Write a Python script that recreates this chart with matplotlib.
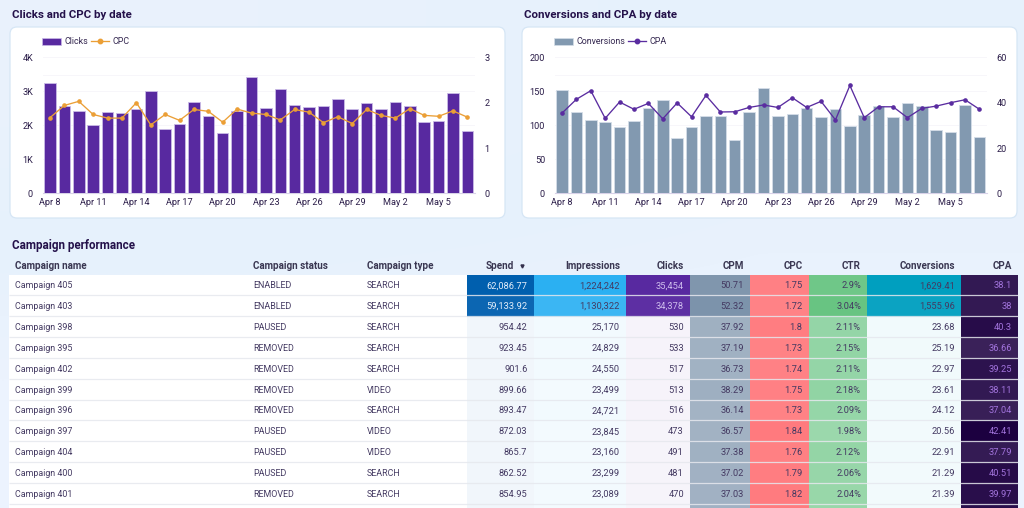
import matplotlib
matplotlib.use("Agg")
import matplotlib.pyplot as plt
import matplotlib.colors as mcolors
import numpy as np
from matplotlib.lines import Line2D
from matplotlib.patches import FancyBboxPatch, Patch, Rectangle

plt.rcParams["font.family"] = ["Roboto", "DejaVu Sans"]

W, H = 1024, 508

# --- chart data ---
dates = ["Apr 8", "Apr 9", "Apr 10", "Apr 11", "Apr 12", "Apr 13", "Apr 14", "Apr 15", "Apr 16", "Apr 17",
         "Apr 18", "Apr 19", "Apr 20", "Apr 21", "Apr 22", "Apr 23", "Apr 24", "Apr 25", "Apr 26", "Apr 27",
         "Apr 28", "Apr 29", "Apr 30", "May 1", "May 2", "May 3", "May 4", "May 5", "May 6", "May 7"]
clicks = [3245, 2570, 2410, 2010, 2380, 2370, 2490, 3010, 1880, 2050,
          2680, 2265, 1785, 2430, 3420, 2500, 3070, 2600, 2530, 2570,
          2785, 2490, 2650, 2480, 2680, 2580, 2090, 2120, 2940, 1825]
cpc = [1.67, 1.94, 2.03, 1.74, 1.66, 1.66, 2.00, 1.51, 1.74, 1.61,
       1.85, 1.81, 1.57, 1.86, 1.77, 1.74, 1.62, 1.85, 1.79, 1.56,
       1.69, 1.54, 1.85, 1.72, 1.66, 1.87, 1.72, 1.70, 1.82, 1.68]
conversions = [152, 120, 108, 105, 97.5, 106, 125.5, 138, 81, 97,
               114, 114, 78, 119, 155, 114, 117, 126, 112, 124,
               98.5, 115, 128, 112, 133, 128, 93, 90, 129.5, 82.5]
cpa = [35.4, 41.5, 45.3, 33.1, 40.3, 37.1, 39.7, 32.9, 39.9, 33.8,
       43.2, 35.9, 36.0, 37.9, 39.0, 37.9, 42.2, 37.9, 40.6, 32.4,
       47.6, 33.4, 38.2, 38.2, 33.4, 37.5, 38.5, 40.0, 41.3, 37.1]

# --- table data ---
campaign_names = ["Campaign 405", "Campaign 403", "Campaign 398", "Campaign 395", "Campaign 402", "Campaign 399",
                  "Campaign 396", "Campaign 397", "Campaign 404", "Campaign 400", "Campaign 401"]
campaign_status = ["ENABLED", "ENABLED", "PAUSED", "REMOVED", "REMOVED", "REMOVED",
                   "REMOVED", "PAUSED", "PAUSED", "PAUSED", "REMOVED"]
campaign_type = ["SEARCH", "SEARCH", "SEARCH", "SEARCH", "SEARCH", "VIDEO",
                 "SEARCH", "VIDEO", "VIDEO", "SEARCH", "SEARCH"]
t_spend = [62086.77, 59133.92, 954.42, 923.45, 901.6, 899.66, 893.47, 872.03, 865.7, 862.52, 854.95]
t_impressions = [1224242, 1130322, 25170, 24829, 24550, 23499, 24721, 23845, 23160, 23299, 23089]
t_clicks = [35454, 34378, 530, 533, 517, 513, 516, 473, 491, 481, 470]
t_cpm = [50.71, 52.32, 37.92, 37.19, 36.73, 38.29, 36.14, 36.57, 37.38, 37.02, 37.03]
t_cpc = [1.75, 1.72, 1.8, 1.73, 1.74, 1.75, 1.73, 1.84, 1.76, 1.79, 1.82]
t_ctr = [2.9, 3.04, 2.11, 2.15, 2.11, 2.18, 2.09, 1.98, 2.12, 2.06, 2.04]
t_conversions = [1629.41, 1555.96, 23.68, 25.19, 22.97, 23.61, 24.12, 20.56, 22.91, 21.29, 21.39]
t_cpa = [38.1, 38, 40.3, 36.66, 39.25, 38.11, 37.04, 42.41, 37.79, 40.51, 39.97]


def px_axes(fig, left, top, right, bottom):
    return fig.add_axes([left / W, 1 - bottom / H, (right - left) / W, (bottom - top) / H])


def draw_card(bg, x0, y0, x1, y1):
    bg.add_patch(FancyBboxPatch((x0, y0), x1 - x0, y1 - y0, boxstyle="round,pad=0,rounding_size=7",
                                facecolor="white", edgecolor="#d6e6f5", linewidth=0.9, zorder=1))


def combo_chart(fig, bg, offset, title, bars, line, bar_name, line_name, bar_color, bar_edge, line_color,
                y_ticks, y_labels, y2_ticks):
    bg.text(offset + 12, 15, title, fontsize=8.25, fontweight="bold", color="#24114a", va="center", ha="left")
    draw_card(bg, offset + 10, 27, offset + 505, 218)

    x = np.arange(len(dates))
    ax = px_axes(fig, offset + 42.8, 57.4, offset + 474.6, 193.3)
    ax.patch.set_alpha(0)
    ax.bar(x, bars, width=0.8, color=bar_color, edgecolor=bar_edge, linewidth=0.6, zorder=3)
    ax.set_xlim(-0.5, len(dates) - 0.5)
    ax.set_ylim(y_ticks[0], y_ticks[-1])
    ax.set_yticks(y_ticks, y_labels)
    ax.set_xticks(x[::3], dates[::3])
    ax.grid(axis="y", color="#f7f6fa", linewidth=0.7, zorder=0)
    ax.axhline(y_ticks[-1] * 0.868, color="#f7f6fa", linewidth=0.7, zorder=0)
    ax.tick_params(axis="both", length=0, labelsize=6.6, labelcolor="#2a1c48")
    ax.tick_params(axis="x", pad=3.5)
    ax.tick_params(axis="y", pad=7)
    for name, spine in ax.spines.items():
        spine.set_visible(name == "bottom")
    ax.spines["bottom"].set_edgecolor("#d8d2e8")
    ax.spines["bottom"].set_linewidth(0.8)

    ax2 = ax.twinx()
    ax2.patch.set_alpha(0)
    ax2.plot(x, line, color=line_color, linewidth=0.95, marker="o", markersize=2.3, zorder=4)
    ax2.set_ylim(y2_ticks[0], y2_ticks[-1])
    ax2.set_yticks(y2_ticks)
    ax2.tick_params(axis="y", length=0, labelsize=6.6, labelcolor="#2a1c48", pad=7)
    for spine in ax2.spines.values():
        spine.set_visible(False)

    handles = [Patch(facecolor=bar_color, edgecolor=bar_edge, linewidth=0.5, label=bar_name),
               Line2D([0], [0], color=line_color, linewidth=0.95, marker="o", markersize=3.2, label=line_name)]
    ax2.legend(handles=handles, loc="center left", ncol=2, frameon=False, fontsize=6.4,
               labelcolor="#33264f", bbox_to_anchor=((offset + 42) / W, 1 - 41.8 / H),
               bbox_transform=fig.transFigure, borderpad=0, borderaxespad=0, handlelength=2.1,
               handleheight=0.9, handletextpad=0.4, columnspacing=0.3)


def cell_color(value, column, base):
    # tint towards the column colour by share of the column maximum
    share = 0.04 + 0.96 * value / max(column)
    white = np.array([1.0, 1.0, 1.0])
    return white + (np.array(mcolors.to_rgb(base)) - white) * share


fig = plt.figure(figsize=(W / 100, H / 100), dpi=100)

bg = fig.add_axes([0, 0, 1, 1])
bg.set_xlim(0, W)
bg.set_ylim(H, 0)
bg.axis("off")
wash = mcolors.LinearSegmentedColormap.from_list("wash", ["#e9f1fc", "#e6f1fc", "#ecf3fe"])
bg.imshow([[0.0, 0.5], [1.0, 1.0]], cmap=wash, extent=(0, W, H, 0), aspect="auto", interpolation="bilinear", zorder=0)
bg.set_xlim(0, W)
bg.set_ylim(H, 0)

combo_chart(fig, bg, 0, "Clicks and CPC by date", clicks, cpc, "Clicks", "CPC", "#5829a0", "#cabbe6", "#eb9f36",
            [0, 1000, 2000, 3000, 4000], ["0", "1K", "2K", "3K", "4K"], [0, 1, 2, 3])
combo_chart(fig, bg, 512, "Conversions and CPA by date", conversions, cpa, "Conversions", "CPA", "#8299b0", "#d5dee8",
            "#5a2ca0", [0, 50, 100, 150, 200], ["0", "50", "100", "150", "200"], [0, 20, 40, 60])

# --- table ---
bg.text(12, 245.5, "Campaign performance", fontsize=8.35, fontweight="bold", color="#24114a", va="center", ha="left")

row_top = 275.0
row_h = 20.85
dark_text = "#443a62"
numeric_cols = [
    ("Spend", t_spend, 466.5, 533.5, "#005fae", "#e3eefa", 10000),
    ("Impressions", t_impressions, 533.5, 625.8, "#2bb0f2", dark_text, 0),
    ("Clicks", t_clicks, 625.8, 690, "#5829a0", "#cdbcec", 10000),
    ("CPM", t_cpm, 690, 750, "#7c93ab", dark_text, 0),
    ("CPC", t_cpc, 750, 808.6, "#ff7a7e", dark_text, 0),
    ("CTR", t_ctr, 808.6, 867, "#68c482", dark_text, 0),
    ("Conversions", t_conversions, 867, 961, "#009fbf", dark_text, 0),
    ("CPA", t_cpa, 961, 1018, "#1c0040", "#a274dc", 0),
]
header_color = "#3a3752"
head_y = 266

bg.text(14.7, head_y, "Campaign name", fontsize=7.1, fontweight="bold", color=header_color, va="center")
bg.text(253, head_y, "Campaign status", fontsize=7.1, fontweight="bold", color=header_color, va="center")
bg.text(366.7, head_y, "Campaign type", fontsize=7.1, fontweight="bold", color=header_color, va="center")

n_rows = len(campaign_names)
bg.add_patch(Rectangle((9, row_top), 1018 - 9, H - row_top, facecolor="white", edgecolor="none", zorder=1))

for i in range(n_rows):
    yc = row_top + row_h * (i + 0.5) + 0.4
    bg.text(14.7, yc, campaign_names[i], fontsize=6.4, color=dark_text, va="center", zorder=5)
    bg.text(253, yc, campaign_status[i], fontsize=6.4, color=dark_text, va="center", zorder=5)
    bg.text(366.7, yc, campaign_type[i], fontsize=6.4, color=dark_text, va="center", zorder=5)

for name, column, x0, x1, base, light_text, light_above in numeric_cols:
    head_x = 514 if name == "Spend" else x1 - 6
    bg.text(head_x, head_y, name, fontsize=7.1, fontweight="bold", color=header_color, va="center", ha="right")
    for i, value in enumerate(column):
        y0 = row_top + row_h * i
        face = cell_color(value, column, base)
        bg.add_patch(Rectangle((x0, y0), x1 - x0, row_h, facecolor=face, edgecolor="none", zorder=2))
        label = f"{value:,}" + ("%" if name == "CTR" else "")
        color = light_text if value > light_above else dark_text
        bg.text(x1 - 6, y0 + row_h / 2 + 0.4, label, fontsize=6.7, color=color, va="center", ha="right", zorder=5)
    # start of the next row, cut off by the bottom of the picture
    y0 = row_top + row_h * len(column)
    bg.add_patch(Rectangle((x0, y0), x1 - x0, H - y0, facecolor=cell_color(column[-1], column, base),
                           edgecolor="none", zorder=2))

# sort arrow next to Spend
bg.plot([522], [265.5], marker="v", markersize=2.2, color="#33304c", zorder=5)

for i in range(1, n_rows + 1):
    bg.plot([9, 1018], [row_top + row_h * i - 0.5] * 2, color="#e6e8ee", linewidth=0.9, alpha=0.85, zorder=4,
            solid_capstyle="butt")

bg.set_xlim(0, W)
bg.set_ylim(H, 0)
fig.savefig("out.png", dpi=100)
